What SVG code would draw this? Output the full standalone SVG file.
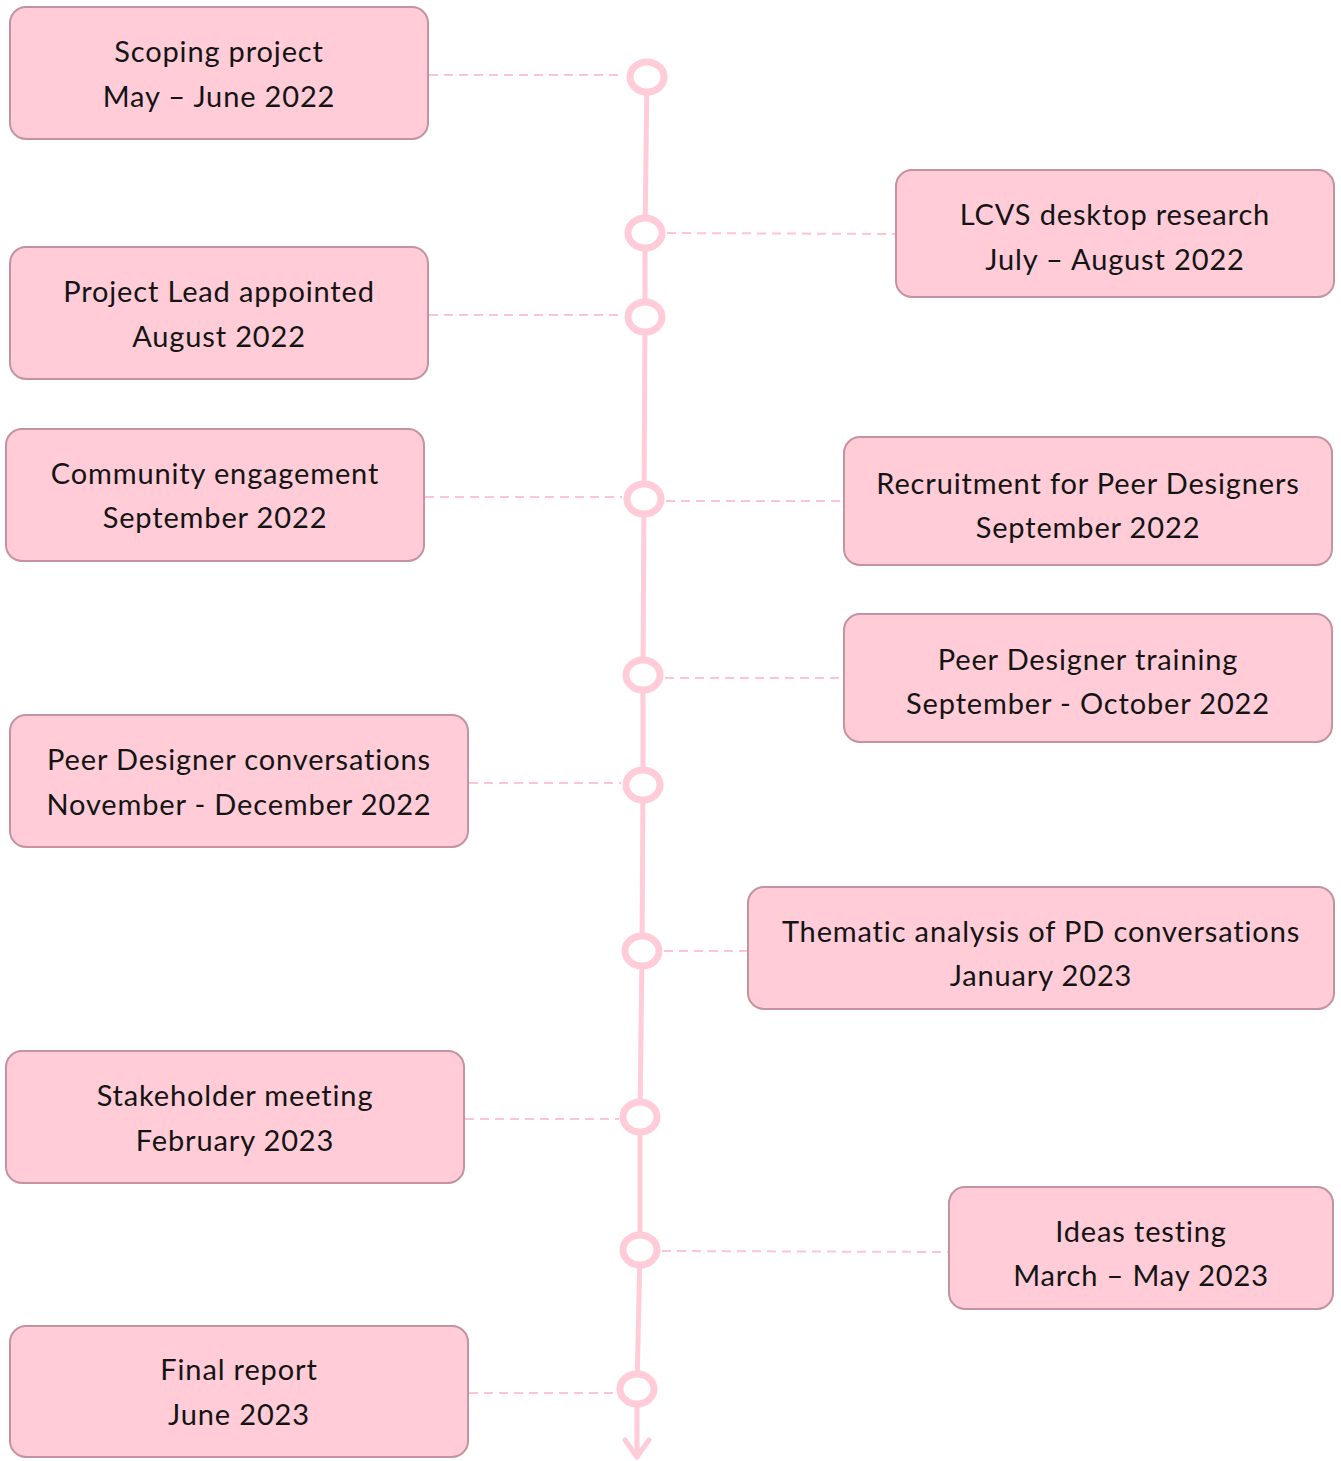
<svg xmlns="http://www.w3.org/2000/svg" width="1341" height="1461" viewBox="0 0 1341 1461">
<defs>
<style>
.box{fill:#FFCCD8;stroke:#C4939F;stroke-width:2}
.t{font-family:Lato,"Open Sans",sans-serif;font-size:29px;letter-spacing:0.85px;fill:#141414;text-anchor:middle;dominant-baseline:central}
.dash{stroke:#FFC4D2;stroke-width:2;stroke-dasharray:9 6;fill:none}
.spine{stroke:#FFCCD8;stroke-width:5;fill:none;stroke-linecap:round;stroke-linejoin:round}
.dot{fill:#FFFFFF;stroke:#FFCCD8;stroke-width:7}
</style>
</defs>
<rect width="1341" height="1461" fill="#FFFFFF"/>
<g id="connectors">
<line class="dash" x1="429" y1="75" x2="623" y2="75"/>
<line class="dash" x1="667" y1="233" x2="896" y2="234"/>
<line class="dash" x1="429" y1="315" x2="623" y2="315"/>
<line class="dash" x1="425" y1="497" x2="622" y2="497"/>
<line class="dash" x1="666" y1="501" x2="844" y2="501"/>
<line class="dash" x1="665" y1="678" x2="844" y2="678"/>
<line class="dash" x1="469" y1="783" x2="621" y2="783"/>
<line class="dash" x1="664" y1="951" x2="748" y2="951"/>
<line class="dash" x1="465" y1="1119" x2="619" y2="1119"/>
<line class="dash" x1="662" y1="1251" x2="949" y2="1252"/>
<line class="dash" x1="469" y1="1393" x2="616" y2="1393"/>
<polyline class="spine" points="647,77 645,233 645,317 644,499 643,675 643,785 642,951 640,1117 640,1250 637,1389 637,1457"/>
<polyline class="spine" points="625,1440 637,1457 649,1440"/>
</g>
<g id="milestones">
<ellipse class="dot" cx="647" cy="77" rx="17" ry="15"/>
<ellipse class="dot" cx="645" cy="233" rx="17" ry="15"/>
<ellipse class="dot" cx="645" cy="317" rx="17" ry="15"/>
<ellipse class="dot" cx="644" cy="499" rx="17" ry="15"/>
<ellipse class="dot" cx="643" cy="675" rx="17" ry="15"/>
<ellipse class="dot" cx="643" cy="785" rx="17" ry="15"/>
<ellipse class="dot" cx="642" cy="951" rx="17" ry="15"/>
<ellipse class="dot" cx="640" cy="1117" rx="17" ry="15"/>
<ellipse class="dot" cx="640" cy="1250" rx="17" ry="15"/>
<ellipse class="dot" cx="637" cy="1389" rx="17" ry="15"/>
</g>
<g id="n1"><rect class="box" x="10" y="7" width="418" height="132" rx="16"/><text class="t" x="219" y="50.5">Scoping project</text><text class="t" x="219" y="95.5">May – June 2022</text></g>
<g id="n2"><rect class="box" x="896" y="170" width="438" height="127" rx="16"/><text class="t" x="1115" y="213.5">LCVS desktop research</text><text class="t" x="1115" y="258.5">July – August 2022</text></g>
<g id="n3"><rect class="box" x="10" y="247" width="418" height="132" rx="16"/><text class="t" x="219" y="290.5">Project Lead appointed</text><text class="t" x="219" y="335.5">August 2022</text></g>
<g id="n4"><rect class="box" x="6" y="429" width="418" height="132" rx="16"/><text class="t" x="215" y="472.5">Community engagement</text><text class="t" x="215" y="516.5">September 2022</text></g>
<g id="n5"><rect class="box" x="844" y="437" width="488" height="128" rx="16"/><text class="t" x="1088" y="482.5">Recruitment for Peer Designers</text><text class="t" x="1088" y="526.5">September 2022</text></g>
<g id="n6"><rect class="box" x="844" y="614" width="488" height="128" rx="16"/><text class="t" x="1088" y="658.5">Peer Designer training</text><text class="t" x="1088" y="702.5">September - October 2022</text></g>
<g id="n7"><rect class="box" x="10" y="715" width="458" height="132" rx="16"/><text class="t" x="239" y="758.5">Peer Designer conversations</text><text class="t" x="239" y="803.5">November - December 2022</text></g>
<g id="n8"><rect class="box" x="748" y="887" width="586" height="122" rx="16"/><text class="t" x="1041" y="930.5">Thematic analysis of PD conversations</text><text class="t" x="1041" y="974.5">January 2023</text></g>
<g id="n9"><rect class="box" x="6" y="1051" width="458" height="132" rx="16"/><text class="t" x="235" y="1094.5">Stakeholder meeting</text><text class="t" x="235" y="1139.5">February 2023</text></g>
<g id="n10"><rect class="box" x="949" y="1187" width="384" height="122" rx="16"/><text class="t" x="1141" y="1230.5">Ideas testing</text><text class="t" x="1141" y="1274.5">March – May 2023</text></g>
<g id="n11"><rect class="box" x="10" y="1326" width="458" height="131" rx="16"/><text class="t" x="239" y="1368.5">Final report</text><text class="t" x="239" y="1413.5">June 2023</text></g>
</svg>
